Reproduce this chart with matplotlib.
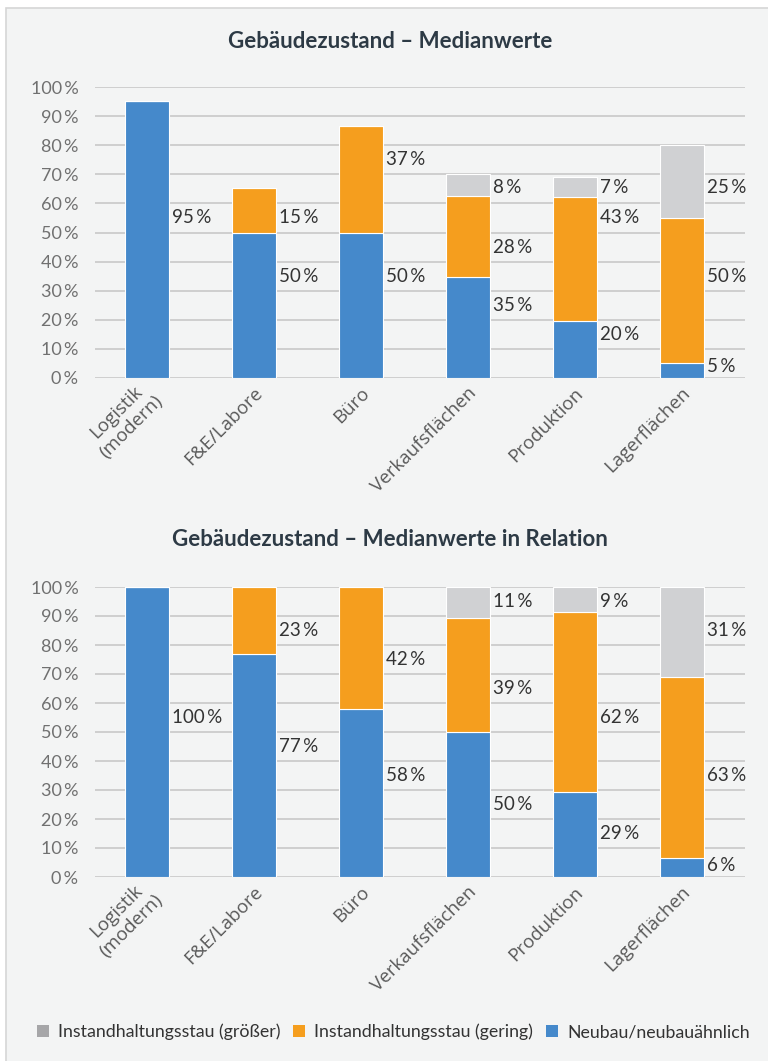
import matplotlib
matplotlib.use("Agg")
import matplotlib.pyplot as plt
from matplotlib.patches import Rectangle, Patch
import numpy as np

plt.rcParams['font.family'] = ['Lato', 'DejaVu Sans']

categories = ["Logistik\n(modern)", "F&E/Labore", "Büro", "Verkaufsflächen", "Produktion", "Lagerflächen"]
series_names = ["Neubau/neubauähnlich", "Instandhaltungsstau (gering)", "Instandhaltungsstau (größer)"]

# chart 1: medians (labels are these values rounded)
neubau_1 = [95.2, 50, 50, 34.8, 19.7, 5.2]
gering_1 = [0, 15.3, 36.6, 27.6, 42.6, 49.8]
groesser_1 = [0, 0, 0, 7.6, 6.7, 25]

# chart 2: medians in relation
neubau_2 = [100, 77, 58, 50, 29.3, 6.4]
gering_2 = [0, 23, 42, 39.4, 62.1, 62.6]
groesser_2 = [0, 0, 0, 10.6, 8.6, 31]

# where the labels sit (axis units), per series, as in the original layout
label_y_1 = [[55, 35, 35, 25, 15, 3.8],
             [None, 55, 75, 45, 55, 35],
             [None, None, None, 65.6, 65.6, 65.6]]
label_y_2 = [[55, 45, 35, 25, 15, 3.8],
             [None, 85, 75, 65, 55, 35],
             [None, None, None, 95, 95, 85]]

blue = '#4589cb'
orange = '#f59e1e'
gray = '#d0d1d3'
gray_legend = '#a6a6a8'

W, H = 768, 1061
fig = plt.figure(figsize=(W / 100, H / 100), dpi=100)
fig.patch.set_facecolor('white')
fig.patches.append(Rectangle((6 / W, -0.01), 1.0, 1 - 8 / H + 0.01, transform=fig.transFigure,
                             facecolor='#f3f4f4', edgecolor='#d6d6d6', linewidth=1.2, zorder=-10))


def draw_chart(rect, title, title_y, data, label_y):
    ax = fig.add_axes(rect)
    ax.set_facecolor('none')
    x = np.arange(len(categories))
    width = 0.41
    bottom = np.zeros(len(categories))
    colors = [blue, orange, gray]
    for vals, col, ly in zip(data, colors, label_y):
        vals = np.array(vals, dtype=float)
        ax.bar(x, vals, width, bottom=bottom, color=col, edgecolor='white', linewidth=0.8, zorder=3)
        for i, v in enumerate(vals):
            if v > 0 and ly[i] is not None:
                ax.text(x[i] + width / 2 + 0.03, ly[i], f"{round(v)}\u2009%", ha='left', va='center',
                        fontsize=13.5, color='#333333', zorder=4)
        bottom += vals
    ax.set_xlim(-0.486, 5.589)
    ax.set_ylim(0, 100)
    ax.set_yticks(range(0, 101, 10))
    ax.set_yticklabels([f"{v}\u2009%" for v in range(0, 101, 10)], fontsize=13, color='#707070')
    ax.yaxis.grid(True, color='#c8c8c8', linewidth=1.2, zorder=0)
    ax.set_axisbelow(True)
    for s in ax.spines.values():
        s.set_visible(False)
    ax.tick_params(axis='both', length=0)
    ax.tick_params(axis='y', pad=12)
    ax.set_xticks(x + 0.05)
    ax.set_xticklabels(categories, rotation=45, ha='right', va='center', rotation_mode='anchor',
                       fontsize=13.5, color='#595959', multialignment='center',
                       family=['Open Sans', 'DejaVu Sans'])
    ax.tick_params(axis='x', pad=9)
    fig.text(0.508, title_y, title, ha='center', va='center', fontsize=16,
             fontweight='bold', color='#2d3a45')
    return ax


draw_chart([95 / W, 1 - 378 / H, 650 / W, 291 / H], "Gebäudezustand – Medianwerte", 1 - 42 / H,
           [neubau_1, gering_1, groesser_1], label_y_1)
draw_chart([95 / W, 1 - 877 / H, 650 / W, 290 / H], "Gebäudezustand – Medianwerte in Relation", 1 - 540 / H,
           [neubau_2, gering_2, groesser_2], label_y_2)

handles = [Patch(facecolor=gray_legend, label=series_names[2]),
           Patch(facecolor=orange, label=series_names[1]),
           Patch(facecolor=blue, label=series_names[0])]
fig.legend(handles=handles, loc='center', bbox_to_anchor=(0.512, 1 - 1032 / H), ncol=3, frameon=False,
           fontsize=12.8, handlelength=0.7, handleheight=0.7, handletextpad=0.5, columnspacing=0.7,
           labelcolor='#333333')

fig.savefig("out.png", dpi=100, facecolor=fig.get_facecolor())
